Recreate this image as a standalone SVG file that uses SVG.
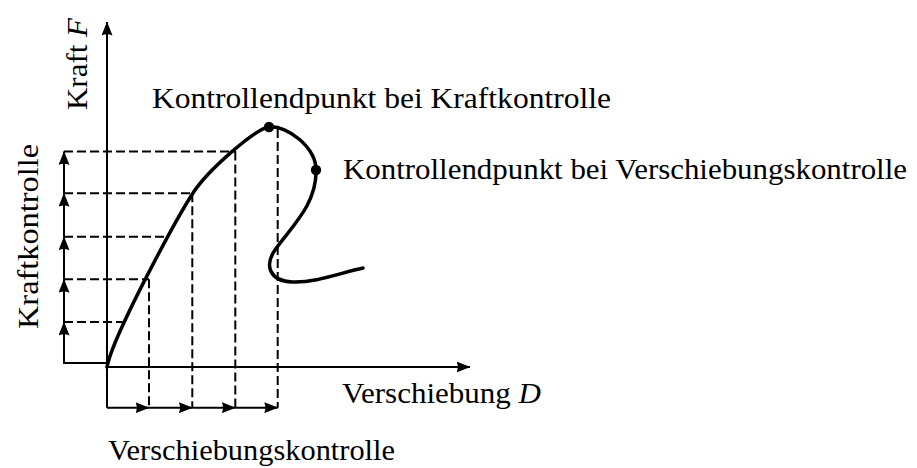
<svg xmlns="http://www.w3.org/2000/svg" width="917" height="468" viewBox="0 0 917 468">
<style>
.ax{stroke:#000;stroke-width:2;fill:none}
.dash{stroke:#000;stroke-width:2;fill:none;stroke-dasharray:9 4}
.curve{stroke:#000;stroke-width:3.5;fill:none;stroke-linecap:round;stroke-linejoin:round}
.lbl{font-family:"Liberation Serif","Times New Roman",serif;font-size:29px;fill:#000}
.it{font-style:italic}
</style>
<defs>
<marker id="arr" markerUnits="userSpaceOnUse" markerWidth="14" markerHeight="11" refX="13.5" refY="5.5" orient="auto" viewBox="0 0 14 11">
<path d="M0,0 Q2.5,5.5 0,11 L14,5.5 Z" fill="#000"/>
</marker>
</defs>
<rect width="917" height="468" fill="#fff"/>
<g id="connectors">
<g id="axes">
<line class="ax" x1="107" y1="407.7" x2="107" y2="22" marker-end="url(#arr)"/>
<line class="ax" x1="106" y1="367" x2="470" y2="367" marker-end="url(#arr)"/>
</g>
<g id="force-control">
<line class="ax" x1="107" y1="363" x2="63" y2="363"/>
<line class="ax" x1="64" y1="363" x2="64" y2="322" marker-end="url(#arr)"/>
<line class="ax" x1="64" y1="322" x2="64" y2="279.3" marker-end="url(#arr)"/>
<line class="ax" x1="64" y1="279.3" x2="64" y2="236.7" marker-end="url(#arr)"/>
<line class="ax" x1="64" y1="236.7" x2="64" y2="193.3" marker-end="url(#arr)"/>
<line class="ax" x1="64" y1="193.3" x2="64" y2="151.5" marker-end="url(#arr)"/>
<line class="dash" x1="64" y1="322" x2="123" y2="322"/>
<line class="dash" x1="64" y1="279.3" x2="149" y2="279.3"/>
<line class="dash" x1="64" y1="236.7" x2="167" y2="236.7"/>
<line class="dash" x1="64" y1="193.3" x2="193" y2="193.3"/>
<line class="dash" x1="64" y1="151.5" x2="236" y2="151.5"/>
</g>
<g id="displacement-control">
<line class="ax" x1="107" y1="407.7" x2="149" y2="407.7" marker-end="url(#arr)"/>
<line class="ax" x1="149" y1="407.7" x2="192.3" y2="407.7" marker-end="url(#arr)"/>
<line class="ax" x1="192.3" y1="407.7" x2="235.3" y2="407.7" marker-end="url(#arr)"/>
<line class="ax" x1="235.3" y1="407.7" x2="277.7" y2="407.7" marker-end="url(#arr)"/>
<line class="dash" x1="149" y1="279.3" x2="149" y2="407.7"/>
<line class="dash" x1="192.3" y1="193.3" x2="192.3" y2="407.7"/>
<line class="dash" x1="235.3" y1="151.5" x2="235.3" y2="407.7"/>
<line class="dash" x1="277.7" y1="129" x2="277.7" y2="407.7"/>
</g>
<path id="load-curve" class="curve" d="M107,367 C113,335 178,216 193,193 C208,170 255,129 269,127 C288,125 316,148 316,170 C317,205 290,228 275,250 C264,266 270,281 292,282 C315,283 340,273 363,268"/>
</g>
<g id="point-force">
<circle cx="269" cy="127" r="5.2" fill="#000"/>
<text class="lbl" x="152" y="108" textLength="459" lengthAdjust="spacingAndGlyphs">Kontrollendpunkt bei Kraftkontrolle</text>
</g>
<g id="point-displacement">
<circle cx="316" cy="170" r="5.2" fill="#000"/>
<text class="lbl" x="343" y="179" textLength="564" lengthAdjust="spacingAndGlyphs">Kontrollendpunkt bei Verschiebungskontrolle</text>
</g>
<g id="label-x">
<text class="lbl" x="342" y="403" textLength="199" lengthAdjust="spacingAndGlyphs">Verschiebung <tspan class="it">D</tspan></text>
</g>
<g id="label-y">
<text class="lbl" transform="translate(86.5,110) rotate(-90)" x="0" y="0" textLength="92" lengthAdjust="spacingAndGlyphs">Kraft <tspan class="it">F</tspan></text>
</g>
<g id="label-force-control">
<text class="lbl" transform="translate(37.7,329) rotate(-90)" x="0" y="0" textLength="185" lengthAdjust="spacingAndGlyphs">Kraftkontrolle</text>
</g>
<g id="label-displacement-control">
<text class="lbl" x="108" y="460" textLength="287" lengthAdjust="spacingAndGlyphs">Verschiebungskontrolle</text>
</g>
</svg>
